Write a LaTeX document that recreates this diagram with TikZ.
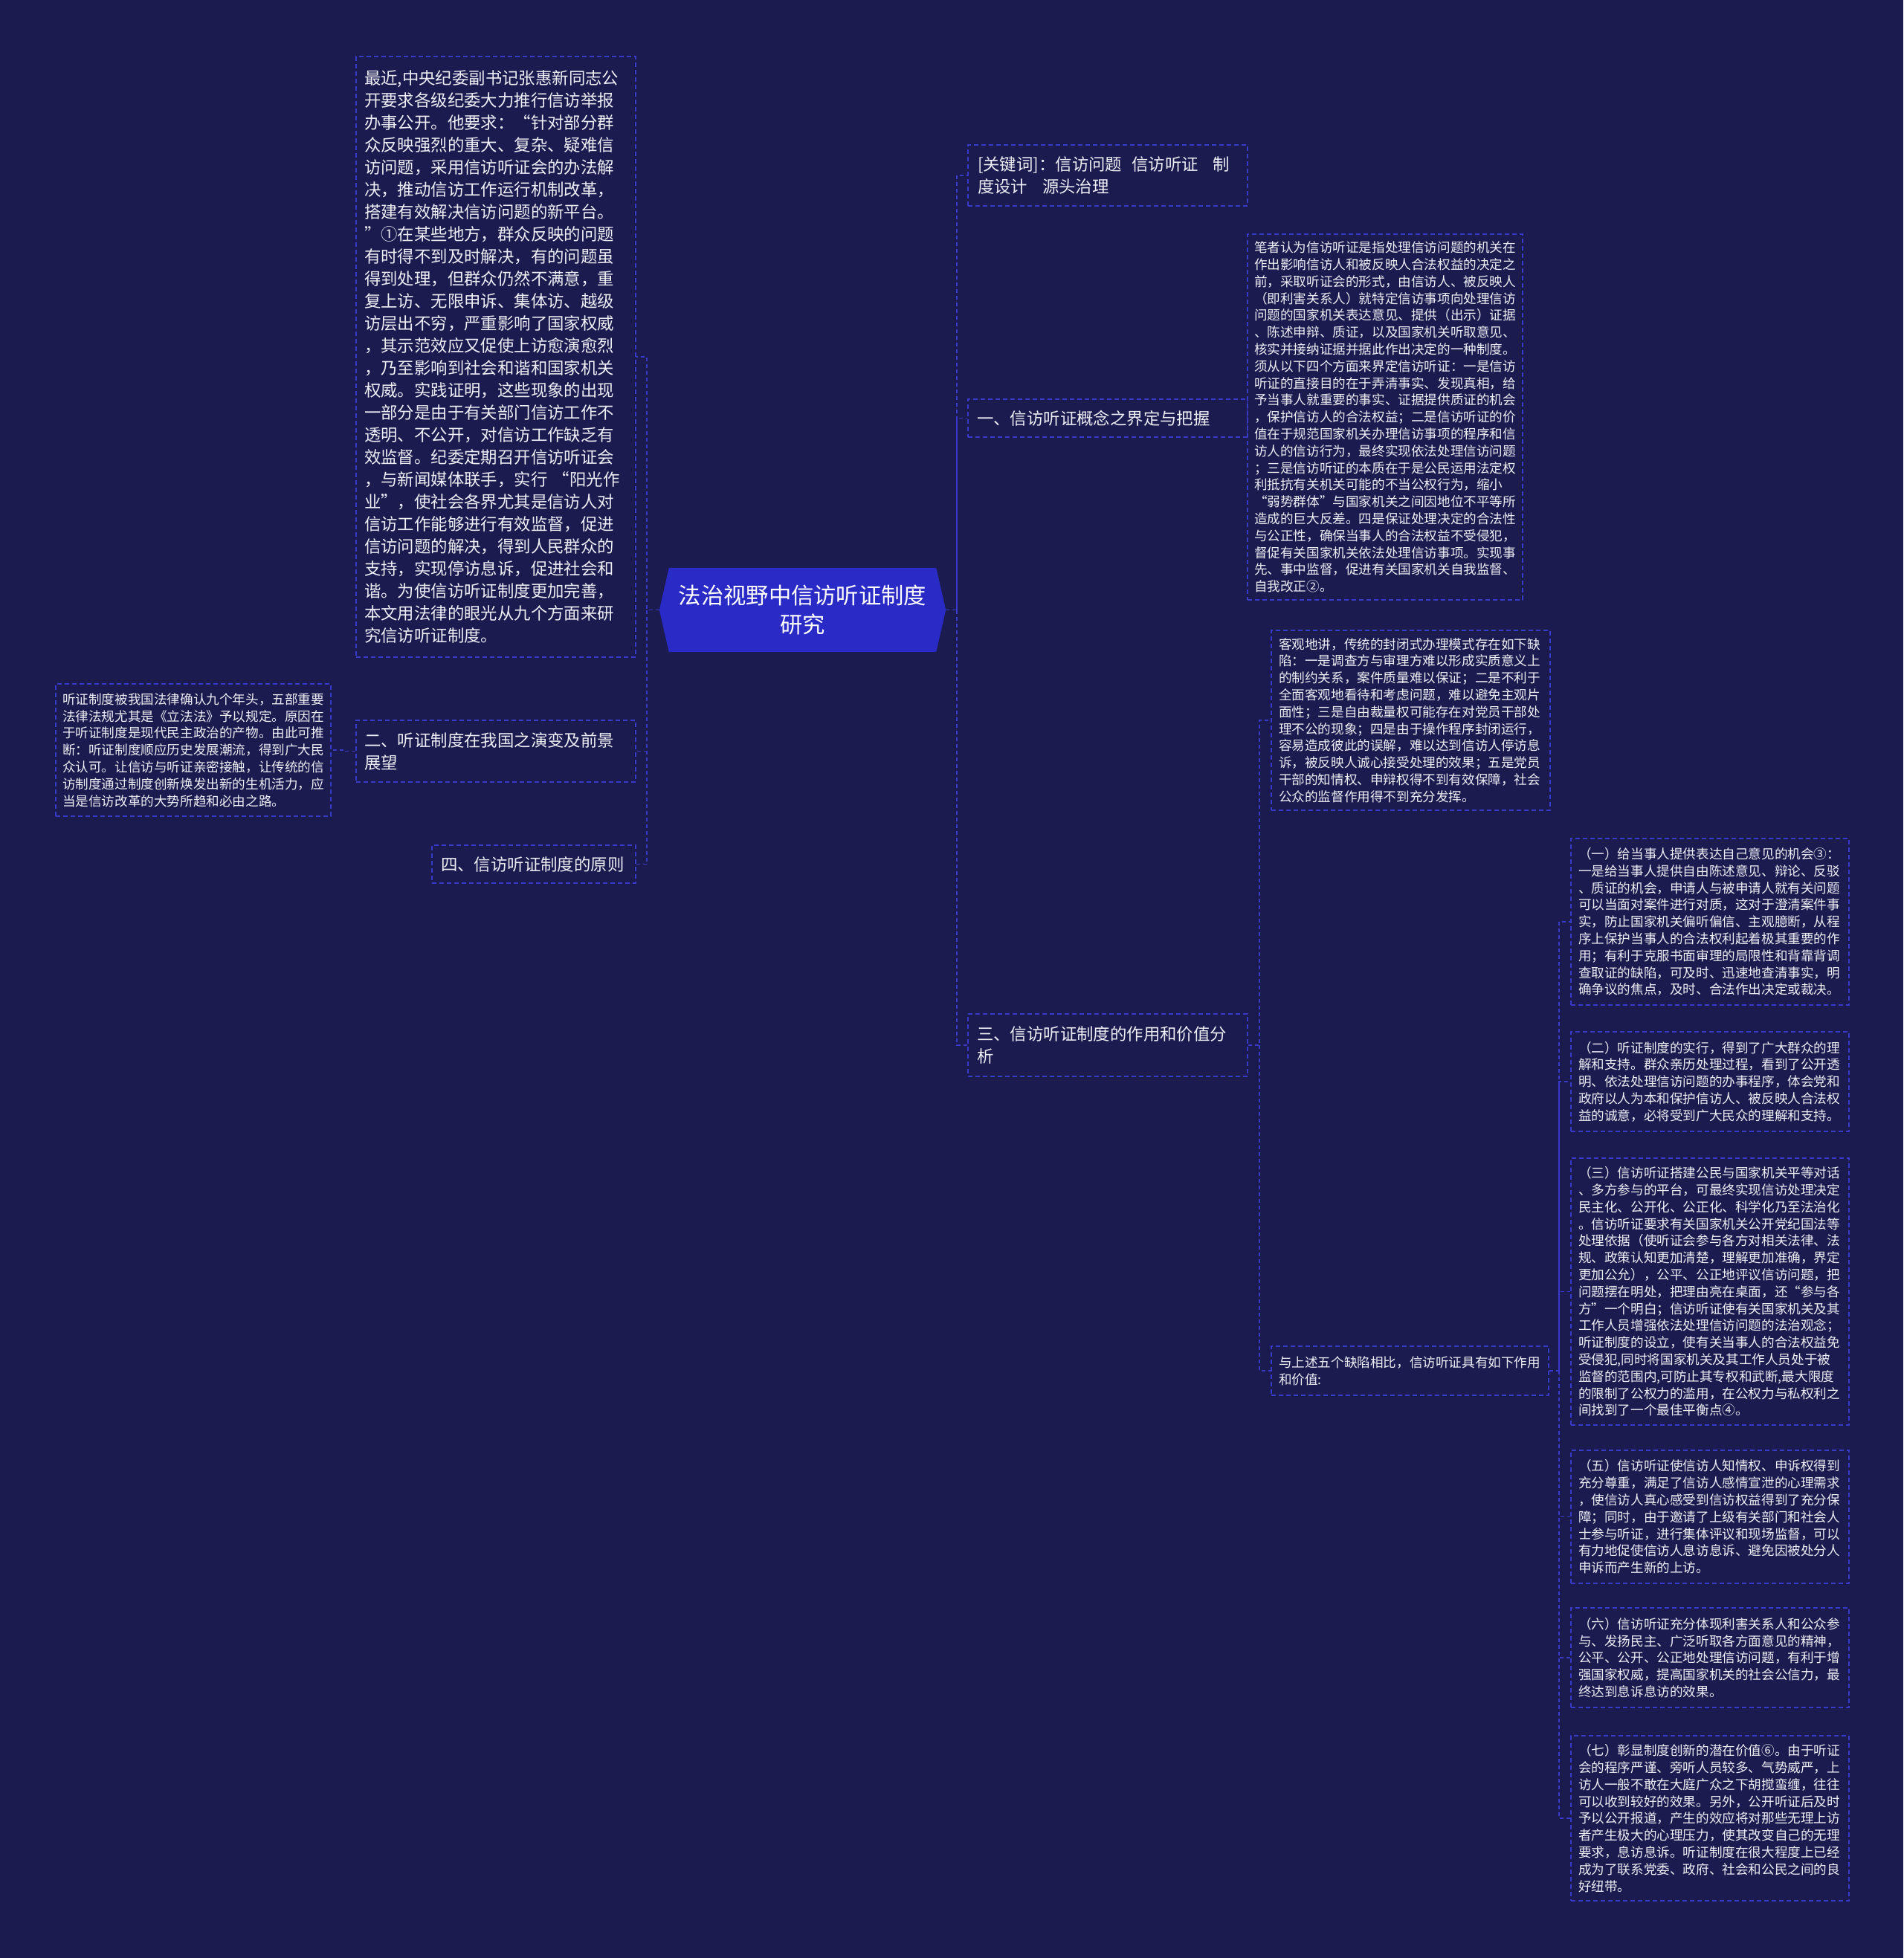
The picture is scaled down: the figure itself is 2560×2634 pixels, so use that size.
\documentclass[tikz,border=0pt]{standalone}
\usepackage{fontspec}
\setmainfont{Noto Sans CJK SC}
\usetikzlibrary{calc,backgrounds}
\definecolor{bgc}{HTML}{1B1B4F}
\definecolor{linec}{HTML}{3A3AC8}
\definecolor{centerc}{HTML}{2A2AC6}
\definecolor{txtc}{HTML}{EEEEF6}
\newcommand{\fbig}{\fontsize{22.4pt}{30pt}\selectfont}
\newcommand{\fsmall}{\fontsize{17.6pt}{22.8pt}\selectfont}
\newcommand{\fcenter}{\fontsize{30.3pt}{39pt}\selectfont}
\tikzset{
  box/.style={draw=linec, line width=1.3pt, dash pattern=on 6pt off 4pt, fill=bgc, text=txtc, align=left, inner ysep=0pt},
  conn/.style={draw=linec, line width=1.2pt, dash pattern=on 5pt off 4pt},
  centernode/.style={text=white, align=center, minimum width=385pt, minimum height=113pt, inner sep=0pt, font=\fcenter},
}
\begin{document}
\begin{tikzpicture}[x=1pt,y=-1pt]
\begin{scope}[on background layer]
\fill[bgc] (0,0) rectangle (2560,2634);
\end{scope}
\useasboundingbox (0,0) rectangle (2560,2634);

% center
\node[centernode] (c) at (1079.5,820.5) {法治视野中信访听证制度\\研究};
\begin{scope}[on background layer]
\fill[centerc] ($(c.north west)+(13pt,0pt)$) -- (c.west) -- ($(c.south west)+(13pt,0pt)$) -- ($(c.south east)+(-13pt,0pt)$) -- (c.east) -- ($(c.north east)+(-13pt,0pt)$) -- cycle;
\end{scope}

% left side
\node[box, font=\fbig, minimum width=376pt, minimum height=808pt, text width=354pt, inner xsep=11pt] (l1) at (667,480) {最近,中央纪委副书记张惠新同志公\\
开要求各级纪委大力推行信访举报\\
办事公开。他要求：“针对部分群\\
众反映强烈的重大、复杂、疑难信\\
访问题，采用信访听证会的办法解\\
决，推动信访工作运行机制改革，\\
搭建有效解决信访问题的新平台。\\
”①在某些地方，群众反映的问题\\
有时得不到及时解决，有的问题虽\\
得到处理，但群众仍然不满意，重\\
复上访、无限申诉、集体访、越级\\
访层出不穷，严重影响了国家权威\\
，其示范效应又促使上访愈演愈烈\\
，乃至影响到社会和谐和国家机关\\
权威。实践证明，这些现象的出现\\
一部分是由于有关部门信访工作不\\
透明、不公开，对信访工作缺乏有\\
效监督。纪委定期召开信访听证会\\
，与新闻媒体联手，实行 “阳光作\\
业”，使社会各界尤其是信访人对\\
信访工作能够进行有效监督，促进\\
信访问题的解决，得到人民群众的\\
支持，实现停访息诉，促进社会和\\
谐。为使信访听证制度更加完善，\\
本文用法律的眼光从九个方面来研\\
究信访听证制度。};

\node[box, font=\fbig, minimum width=376pt, minimum height=83pt, text width=354pt, inner xsep=11pt] (l3) at (667,1010.5) {二、听证制度在我国之演变及前景\\展望};

\node[box, font=\fbig, minimum width=274pt, minimum height=51pt, text width=250pt, inner xsep=12pt] (l4) at (718,1162.5) {四、信访听证制度的原则};

\node[box, font=\fsmall, minimum width=370pt, minimum height=178pt, text width=352pt, inner xsep=9pt] (l2) at (260,1009) {听证制度被我国法律确认九个年头，五部重要\\
法律法规尤其是《立法法》予以规定。原因在\\
于听证制度是现代民主政治的产物。由此可推\\
断：听证制度顺应历史发展潮流，得到广大民\\
众认可。让信访与听证亲密接触，让传统的信\\
访制度通过制度创新焕发出新的生机活力，应\\
当是信访改革的大势所趋和必由之路。};

% right side level 1
\node[box, font=\fbig, minimum width=376pt, minimum height=82pt, text width=350pt, inner xsep=13pt] (r1) at (1490,236) {[关键词]：信访问题\hspace{13pt}信访听证\hspace{20pt}制\\度设计\hspace{20pt}源头治理};

\node[box, font=\fbig, minimum width=376pt, minimum height=51pt, text width=352pt, inner xsep=12pt] (r2) at (1490,562.5) {一、信访听证概念之界定与把握};

\node[box, font=\fbig, minimum width=376pt, minimum height=84pt, text width=352pt, inner xsep=12pt] (r4) at (1490,1406) {三、信访听证制度的作用和价值分\\析};

% right side level 2
\node[box, font=\fsmall, minimum width=370pt, minimum height=492pt, text width=352pt, inner xsep=9pt] (r3) at (1863,561) {笔者认为信访听证是指处理信访问题的机关在\\
作出影响信访人和被反映人合法权益的决定之\\
前，采取听证会的形式，由信访人、被反映人\\
（即利害关系人）就特定信访事项向处理信访\\
问题的国家机关表达意见、提供（出示）证据\\
、陈述申辩、质证，以及国家机关听取意见、\\
核实并接纳证据并据此作出决定的一种制度。\\
须从以下四个方面来界定信访听证：一是信访\\
听证的直接目的在于弄清事实、发现真相，给\\
予当事人就重要的事实、证据提供质证的机会\\
，保护信访人的合法权益；二是信访听证的价\\
值在于规范国家机关办理信访事项的程序和信\\
访人的信访行为，最终实现依法处理信访问题\\
；三是信访听证的本质在于是公民运用法定权\\
利抵抗有关机关可能的不当公权行为，缩小\\
“弱势群体”与国家机关之间因地位不平等所\\
造成的巨大反差。四是保证处理决定的合法性\\
与公正性，确保当事人的合法权益不受侵犯，\\
督促有关国家机关依法处理信访事项。实现事\\
先、事中监督，促进有关国家机关自我监督、\\
自我改正②。};

\node[box, font=\fsmall, minimum width=375pt, minimum height=242pt, text width=355pt, inner xsep=10pt] (r5) at (1897.5,969) {客观地讲，传统的封闭式办理模式存在如下缺\\
陷：一是调查方与审理方难以形成实质意义上\\
的制约关系，案件质量难以保证；二是不利于\\
全面客观地看待和考虑问题，难以避免主观片\\
面性；三是自由裁量权可能存在对党员干部处\\
理不公的现象；四是由于操作程序封闭运行，\\
容易造成彼此的误解，难以达到信访人停访息\\
诉，被反映人诚心接受处理的效果；五是党员\\
干部的知情权、申辩权得不到有效保障，社会\\
公众的监督作用得不到充分发挥。};

\node[box, font=\fsmall, minimum width=373pt, minimum height=66pt, text width=353pt, inner xsep=10pt] (r6) at (1896.5,1844) {与上述五个缺陷相比，信访听证具有如下作用\\和价值:};

% right side level 3
\node[box, font=\fsmall, minimum width=374pt, minimum height=224pt, text width=354pt, inner xsep=10pt] (r7) at (2300,1240) {（一）给当事人提供表达自己意见的机会③：\\
一是给当事人提供自由陈述意见、辩论、反驳\\
、质证的机会，申请人与被申请人就有关问题\\
可以当面对案件进行对质，这对于澄清案件事\\
实，防止国家机关偏听偏信、主观臆断，从程\\
序上保护当事人的合法权利起着极其重要的作\\
用；有利于克服书面审理的局限性和背靠背调\\
查取证的缺陷，可及时、迅速地查清事实，明\\
确争议的焦点，及时、合法作出决定或裁决。};

\node[box, font=\fsmall, minimum width=374pt, minimum height=134pt, text width=354pt, inner xsep=10pt] (r8) at (2300,1455) {（二）听证制度的实行，得到了广大群众的理\\
解和支持。群众亲历处理过程，看到了公开透\\
明、依法处理信访问题的办事程序，体会党和\\
政府以人为本和保护信访人、被反映人合法权\\
益的诚意，必将受到广大民众的理解和支持。};

\node[box, font=\fsmall, minimum width=374pt, minimum height=359pt, text width=354pt, inner xsep=10pt] (r9) at (2300,1737.5) {（三）信访听证搭建公民与国家机关平等对话\\
、多方参与的平台，可最终实现信访处理决定\\
民主化、公开化、公正化、科学化乃至法治化\\
。信访听证要求有关国家机关公开党纪国法等\\
处理依据（使听证会参与各方对相关法律、法\\
规、政策认知更加清楚，理解更加准确，界定\\
更加公允），公平、公正地评议信访问题，把\\
问题摆在明处，把理由亮在桌面，还“参与各\\
方”一个明白；信访听证使有关国家机关及其\\
工作人员增强依法处理信访问题的法治观念；\\
听证制度的设立，使有关当事人的合法权益免\\
受侵犯,同时将国家机关及其工作人员处于被\\
监督的范围内,可防止其专权和武断,最大限度\\
的限制了公权力的滥用，在公权力与私权利之\\
间找到了一个最佳平衡点④。};

\node[box, font=\fsmall, minimum width=374pt, minimum height=179pt, text width=354pt, inner xsep=10pt] (r10) at (2300,2040.5) {（五）信访听证使信访人知情权、申诉权得到\\
充分尊重，满足了信访人感情宣泄的心理需求\\
，使信访人真心感受到信访权益得到了充分保\\
障；同时，由于邀请了上级有关部门和社会人\\
士参与听证，进行集体评议和现场监督，可以\\
有力地促使信访人息访息诉、避免因被处分人\\
申诉而产生新的上访。};

\node[box, font=\fsmall, minimum width=374pt, minimum height=134pt, text width=354pt, inner xsep=10pt] (r11) at (2300,2230) {（六）信访听证充分体现利害关系人和公众参\\
与、发扬民主、广泛听取各方面意见的精神，\\
公平、公开、公正地处理信访问题，有利于增\\
强国家权威，提高国家机关的社会公信力，最\\
终达到息诉息访的效果。};

\node[box, font=\fsmall, minimum width=374pt, minimum height=222pt, text width=354pt, inner xsep=10pt] (r12) at (2300,2446) {（七）彰显制度创新的潜在价值⑥。由于听证\\
会的程序严谨、旁听人员较多、气势威严，上\\
访人一般不敢在大庭广众之下胡搅蛮缠，往往\\
可以收到较好的效果。另外，公开听证后及时\\
予以公开报道，产生的效应将对那些无理上访\\
者产生极大的心理压力，使其改变自己的无理\\
要求，息访息诉。听证制度在很大程度上已经\\
成为了联系党委、政府、社会和公民之间的良\\
好纽带。};

% trunk coordinates
\coordinate (tl) at (870,0);
\coordinate (tr) at (1287,0);
\coordinate (t3) at (462,0);
\coordinate (t4) at (1694,0);
\coordinate (t6) at (2097,0);

% connectors
\draw[conn] (c.west) -- (c.west -| tl) |- (l1.east);
\draw[conn] (c.west -| tl) |- (l3.east);
\draw[conn] (c.west -| tl) |- (l4.east);
\draw[conn] (c.east) -- (c.east -| tr) |- (r1.west);
\draw[conn] (c.east -| tr) |- (r2.west);
\draw[conn] (c.east -| tr) |- (r4.west);
\draw[conn] (l3.west) -- (l3.west -| t3) |- (l2.east);
\draw[conn] (r2.east) -- (r3.west);
\draw[conn] (r4.east) -- (r4.east -| t4) |- (r5.west);
\draw[conn] (r4.east -| t4) |- (r6.west);
\draw[conn] (r6.east) -- (r6.east -| t6) |- (r7.west);
\draw[conn] (r6.east -| t6) |- (r8.west);
\draw[conn] (r6.east -| t6) |- (r9.west);
\draw[conn] (r6.east -| t6) |- (r10.west);
\draw[conn] (r6.east -| t6) |- (r11.west);
\draw[conn] (r6.east -| t6) |- (r12.west);
\end{tikzpicture}
\end{document}
